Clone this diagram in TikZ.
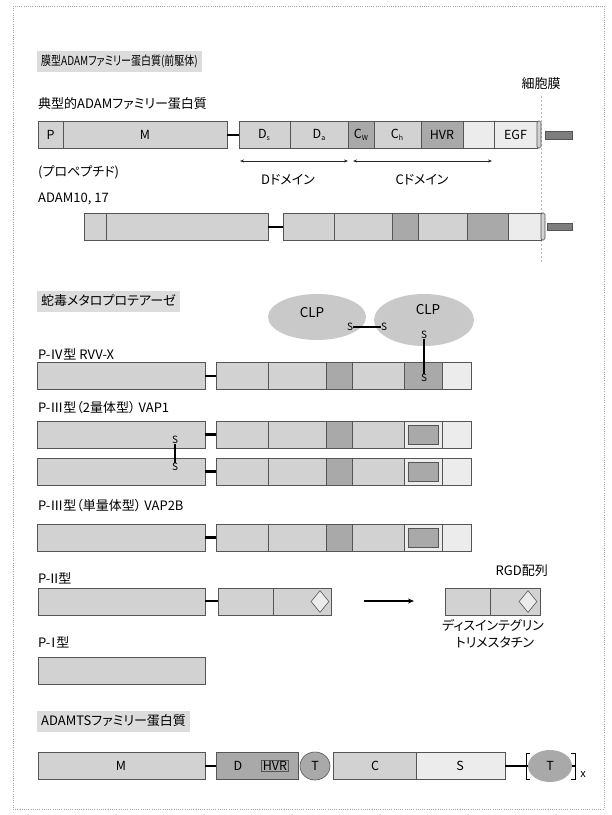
\documentclass[tikz,border=0pt]{standalone}
\usepackage{fontspec}
\setmainfont{Noto Sans CJK JP}[RawFeature=+palt]
\usetikzlibrary{arrows.meta,shapes.geometric}
\definecolor{barC}{HTML}{D2D2D2}
\definecolor{darkC}{HTML}{A9A9A9}
\definecolor{lightC}{HTML}{ECECEC}
\definecolor{edgeC}{HTML}{555555}
\definecolor{titleC}{HTML}{DCDCDC}
\definecolor{tmC}{HTML}{7E7E7E}
\definecolor{clpC}{HTML}{C9C9C9}
\newcommand\subs[1]{\raisebox{-1.5pt}{\fontsize{7}{8}\selectfont #1}}
\begin{document}
\begin{tikzpicture}[x=1pt,y=-1pt,
  seg/.style={draw=edgeC,line width=0.6pt,fill=barC},
  darkseg/.style={seg,fill=darkC},
  lightseg/.style={seg,fill=lightC},
  lab/.style={anchor=west,inner sep=0pt,font=\fontsize{13}{15}\selectfont},
  ctext/.style={inner sep=0pt,font=\fontsize{12.5}{14}\selectfont},
  stext/.style={inner sep=0pt,font=\fontsize{10}{12}\selectfont},
  ttl/.style={anchor=west,fill=titleC,inner xsep=4pt,inner ysep=0pt,minimum height=21pt,font=\fontsize{13}{15}\selectfont},
  linker/.style={line width=2.6pt,black},
  tmbar/.style={fill=tmC,draw=edgeC,line width=0.4pt},
  dom/.style={line width=0.6pt,gray!30!black,{Stealth[length=4pt,width=3pt]}-{Stealth[length=4pt,width=3pt]}},
  ssbond/.style={line width=2.4pt,black},
  dia/.style={diamond,draw=edgeC,line width=0.6pt,fill=lightC,minimum width=18pt,minimum height=22pt,inner sep=0pt}
]
\useasboundingbox (0,0) rectangle (612,815);
\fill[white] (0,0) rectangle (612,815);
\draw[gray!70,line width=0.5pt,dash pattern=on 1pt off 1.2pt] (13,6) rectangle (604,809);

% ---- titles ----
\node[ttl,font=\fontsize{12.5}{14}\selectfont] (t1) at (37,61) {\scalebox{0.8}[1]{膜型ADAMファミリー蛋白質(前駆体)}};
\node[ttl] (t2) at (37,301) {蛇毒メタロプロテアーゼ};
\node[ttl] (t3) at (37,721) {ADAMTSファミリー蛋白質};

% ---- membrane ----
\node[lab,anchor=center] (mem) at (541,84) {細胞膜};
\coordinate (memtop) at (541,96);
\coordinate (membot) at (541,262);
\draw[gray!55,line width=0.5pt,dash pattern=on 1.5pt off 2.5pt] (memtop) -- (membot);

% ---- row 1: typical ADAM ----
\node[lab] (l1) at (38,104) {典型的ADAMファミリー蛋白質};
\draw[seg] (38,121) rectangle (63,148);
\draw[seg] (63,121) rectangle (227,148);
\coordinate (k1a) at (227,135); \coordinate (k1b) at (239,135);
\draw[linker] (k1a) -- (k1b);
\draw[seg] (239,121) rectangle (290,148);
\draw[seg] (290,121) rectangle (348,148);
\draw[darkseg] (348,121) rectangle (374,148);
\draw[seg] (374,121) rectangle (421,148);
\draw[darkseg] (421,121) rectangle (463,148);
\draw[lightseg] (463,121) rectangle (494,148);
\draw[lightseg] (494,121) rectangle (537,148);
\draw[seg,rounded corners=1.5pt] (537,121) rectangle (541,148);
\draw[tmbar] (545,131) rectangle (572,139);
\node[ctext] (p1) at (50.5,135) {P};
\node[ctext] (m1) at (145,135) {M};
\node[ctext] (ds1) at (264,135) {D\subs{s}};
\node[ctext] (da1) at (319,135) {D\subs{a}};
\node[ctext] (cw1) at (361,135) {C\subs{W}};
\node[ctext] (ch1) at (397,135) {C\subs{h}};
\node[ctext] (hvr1) at (442,135) {HVR};
\node[ctext] (egf1) at (515.5,135) {EGF};

\coordinate (dA) at (240,161); \coordinate (dB) at (348,161);
\coordinate (cA) at (353,161); \coordinate (cB) at (492,161);
\draw[dom] (dA) -- (dB);
\draw[dom] (cA) -- (cB);
\node[lab] (pro) at (38,172) {(プロペプチド)};
\node[lab,anchor=center] (ddom) at (288,180) {Dドメイン};
\node[lab,anchor=center] (cdom) at (422,180) {Cドメイン};

% ---- row 2: ADAM10, 17 ----
\node[lab] (l2) at (38,199) {ADAM10, 17};
\draw[seg] (84,213) rectangle (106,240);
\draw[seg] (106,213) rectangle (268,240);
\coordinate (k2a) at (268,227); \coordinate (k2b) at (283,227);
\draw[linker] (k2a) -- (k2b);
\draw[seg] (283,213) rectangle (334,240);
\draw[seg] (334,213) rectangle (392,240);
\draw[darkseg] (392,213) rectangle (418,240);
\draw[seg] (418,213) rectangle (467,240);
\draw[darkseg] (467,213) rectangle (508,240);
\draw[lightseg] (508,213) rectangle (541,240);
\draw[seg,rounded corners=1.5pt] (541,213) rectangle (545,240);
\draw[tmbar] (547,223) rectangle (572,230);

% ---- CLP subunits ----
\node[ellipse,fill=clpC,minimum width=98pt,minimum height=46pt,inner sep=0pt] (clp1) at (317,317) {};
\node[ellipse,fill=clpC,minimum width=100pt,minimum height=52pt,inner sep=0pt] (clp2) at (424,320) {};
\node[inner sep=0pt,font=\fontsize{13.5}{15}\selectfont] (clp1t) at (312,313) {CLP};
\node[inner sep=0pt,font=\fontsize{13.5}{15}\selectfont] (clp2t) at (428,310) {CLP};
\node[stext] (s1) at (350,327) {S};
\node[stext] (s2) at (384,327) {S};
\draw[ssbond] (s1.east) -- (s2.west);
\node[stext] (s3) at (424,335) {S};

% ---- row 3: P-IV ----
\node[lab] (l3) at (38,354) {P-Ⅳ型 RVV-X};
\draw[seg] (37,362) rectangle (205,389);
\coordinate (k3a) at (205,376); \coordinate (k3b) at (216,376);
\draw[linker] (k3a) -- (k3b);
\draw[seg] (216,362) rectangle (268,389);
\draw[seg] (268,362) rectangle (326,389);
\draw[darkseg] (326,362) rectangle (352,389);
\draw[seg] (352,362) rectangle (404,389);
\draw[darkseg] (404,362) rectangle (442,389);
\draw[lightseg] (442,362) rectangle (471,389);
\node[stext] (s4) at (424,378) {S};
\draw[ssbond,line width=2pt] (s3.south) -- (s4.north);

% ---- row 4: P-III dimer ----
\node[lab] (l4) at (38,408) {P-Ⅲ型（2量体型） VAP1};
\foreach \yt/\yb in {421/448,458/485,524/551}{
  \draw[seg] (37,\yt) rectangle (205,\yb);
  \draw[linker] (205,{(\yt+\yb)/2}) -- (216,{(\yt+\yb)/2});
  \draw[seg] (216,\yt) rectangle (268,\yb);
  \draw[seg] (268,\yt) rectangle (326,\yb);
  \draw[darkseg] (326,\yt) rectangle (352,\yb);
  \draw[seg] (352,\yt) rectangle (404,\yb);
  \draw[lightseg] (404,\yt) rectangle (442,\yb);
  \draw[darkseg] (408,\yt+4) rectangle (438,\yb-4);
  \draw[lightseg] (442,\yt) rectangle (471,\yb);
}
\node[stext] (s5) at (175,440) {S};
\node[stext] (s6) at (175,467) {S};
\draw[ssbond,line width=2pt] (s5.south) -- (s6.north);

% ---- row 5: P-III monomer ----
\node[lab] (l5) at (38,506) {P-Ⅲ型（単量体型） VAP2B};

% ---- row 6: P-II ----
\node[lab] (l6) at (38,578) {P-\kern-2.5ptⅡ\kern-2.5pt型};
\draw[seg] (38,588) rectangle (205,615);
\coordinate (k6a) at (205,601); \coordinate (k6b) at (218,601);
\draw[linker] (k6a) -- (k6b);
\draw[seg] (218,588) rectangle (273,615);
\draw[seg] (273,588) rectangle (331,615);
\node[dia] (dm1) at (320,601.5) {};
\coordinate (arA) at (364,601); \coordinate (arB) at (414,601);
\draw[line width=1.2pt,-{Stealth[length=6pt,width=5pt]}] (arA) -- (arB);
\draw[seg] (445,588) rectangle (490,615);
\draw[seg] (490,588) rectangle (540,615);
\node[dia] (dm2) at (528,601.5) {};
\node[lab,anchor=east] (rgd) at (548,571) {RGD配列};
\node[lab,anchor=center] (dis) at (493,625) {ディスインテグリン};
\node[lab,anchor=center] (tri) at (495,642) {トリメスタチン};

% ---- row 7: P-I ----
\node[lab] (l7) at (38,642) {P-\kern-3.5ptⅠ\kern-3.5pt型};
\draw[seg] (38,657) rectangle (205,684);

% ---- row 8: ADAMTS ----
\draw[seg] (38,752) rectangle (205,779);
\node[ctext] (m8) at (121,766) {M};
\coordinate (k8a) at (205,766); \coordinate (k8b) at (216,766);
\draw[linker] (k8a) -- (k8b);
\draw[darkseg] (216,752) rectangle (298,779);
\node[ctext] (d8) at (238,766) {D};
\node[ctext,draw=edgeC,line width=0.8pt,inner sep=1pt] (hvr8) at (275,766) {HVR};
\node[ellipse,draw=edgeC,line width=0.6pt,fill=darkC,minimum width=30pt,minimum height=28pt,inner sep=0pt,font=\fontsize{12.5}{14}\selectfont] (t8a) at (315,766) {T};
\draw[seg] (333,752) rectangle (416,779);
\node[ctext] (c8) at (375,766) {C};
\draw[lightseg] (416,752) rectangle (505,779);
\node[ctext] (sp8) at (460,766) {S};
\node[ellipse,fill=darkC,minimum width=44pt,minimum height=32pt,inner sep=0pt,font=\fontsize{12.5}{14}\selectfont] (t8b) at (550,766) {T};
\coordinate (s8e) at (505,766);
\draw[linker,line width=2.2pt] (s8e) -- (t8b.west);
\draw[line width=1pt] (530,753) -- (526,753) -- (526,779) -- (530,779);
\draw[line width=1pt] (571,753) -- (575,753) -- (575,779) -- (571,779);
\draw[line width=2pt] (t8b.east) -- (575,766);
\node[stext,font=\fontsize{11}{12}\selectfont] (xx) at (583,775) {x};
\end{tikzpicture}
\end{document}
